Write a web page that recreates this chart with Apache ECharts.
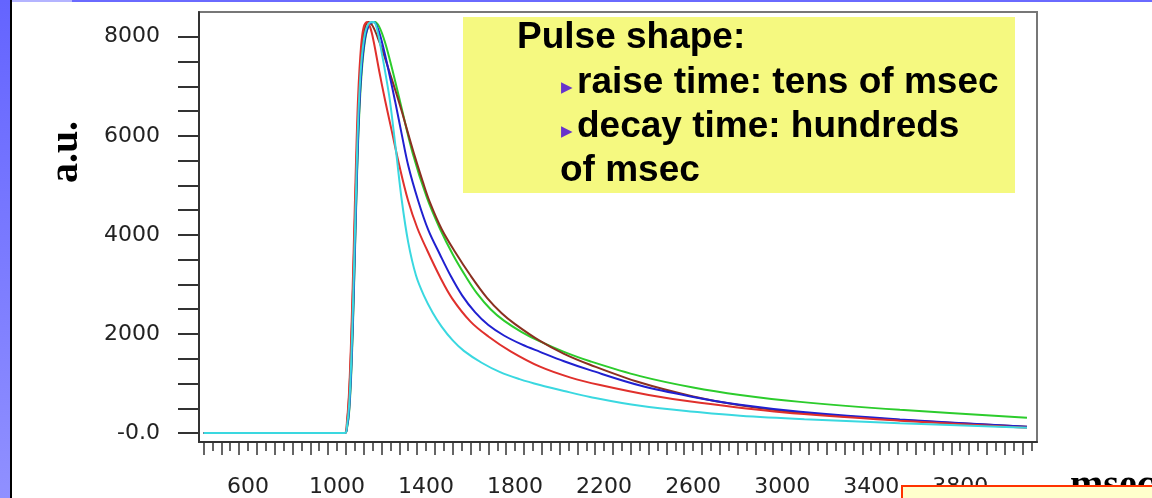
<!DOCTYPE html>
<html>
<head>
<meta charset="utf-8">
<script src="https://cdn.jsdelivr.net/npm/echarts@6/dist/echarts.min.js"></script>
<style>
html, body { margin: 0; padding: 0; background: #fff; }
#chart { width: 1152px; height: 498px; }
</style>
</head>
<body>
<div id="chart"></div>
<script>
// pulse curves, [msec, a.u.]
const red = [[400,0],[1035,0],[1045,250],[1055,900],[1065,2100],[1075,3700],[1085,5400],[1095,6800],[1108,7800],[1120,8200],[1135,8300],[1150,8180],[1165,7900],[1190,7300],[1216,6720],[1245,6120],[1280,5400],[1319,4700],[1360,4150],[1404,3700],[1463,3150],[1517,2720],[1600,2250],[1680,1950],[1780,1650],[1912,1340],[2050,1120],[2182,970],[2400,770],[2631,610],[3000,420],[3529,250],[4100,110]];
const green = [[400,0],[1035,0],[1045,100],[1055,450],[1065,1300],[1075,2700],[1085,4400],[1095,5900],[1108,7100],[1125,7900],[1145,8250],[1170,8300],[1190,8200],[1215,7900],[1245,7400],[1283,6700],[1340,5650],[1404,4750],[1460,4150],[1521,3600],[1580,3150],[1629,2820],[1690,2500],[1750,2270],[1830,2040],[1912,1850],[2020,1640],[2137,1450],[2362,1150],[2600,920],[2811,770],[3081,630],[3529,470],[4100,310]];
const blue = [[400,0],[1035,0],[1045,120],[1055,500],[1065,1400],[1075,2800],[1085,4500],[1095,6000],[1108,7200],[1125,7950],[1145,8250],[1165,8300],[1185,8150],[1210,7750],[1235,7250],[1261,6700],[1290,6050],[1320,5400],[1364,4700],[1410,4100],[1463,3600],[1510,3180],[1562,2780],[1620,2440],[1680,2180],[1750,1970],[1830,1790],[1912,1640],[2020,1450],[2137,1270],[2362,960],[2600,730],[2811,570],[3081,430],[3529,275],[4100,130]];
const cyan = [[400,0],[1035,0],[1045,150],[1055,600],[1065,1600],[1075,3100],[1085,4800],[1095,6300],[1108,7400],[1125,8050],[1145,8280],[1165,8300],[1180,8150],[1200,7700],[1220,7200],[1238,6700],[1265,5700],[1291,4700],[1320,3850],[1355,3180],[1390,2780],[1430,2430],[1470,2150],[1520,1870],[1570,1660],[1650,1420],[1733,1230],[1820,1090],[1912,970],[2020,850],[2137,730],[2362,550],[2631,420],[2811,350],[3100,280],[3529,200],[4100,110]];
const brown = [[400,0],[1035,0],[1045,200],[1055,800],[1065,1900],[1075,3400],[1085,5000],[1095,6400],[1108,7500],[1122,8100],[1140,8300],[1160,8220],[1190,7900],[1215,7580],[1240,7230],[1265,6880],[1292,6480],[1320,6040],[1350,5580],[1385,5080],[1418,4650],[1470,4120],[1530,3660],[1600,3180],[1674,2730],[1740,2420],[1800,2200],[1912,1860],[2020,1600],[2137,1380],[2362,1020],[2600,740],[2811,560],[3081,410],[3529,265],[4100,130]];

const yTicks = [0,500,1000,1500,2000,2500,3000,3500,4000,4500,5000,5500,6000,6500,7000,7500,8000];
const yLabels = [0,2000,4000,6000,8000];
const xLabels = [600,1000,1400,1800,2200,2600,3000,3400,3800];
let xTicks = [];
for (let v = 400; v <= 4120; v += 40) xTicks.push(v);
let xTicksLong = [];
for (let v = 400; v <= 4120; v += 80) xTicksLong.push(v);

let chart = echarts.init(document.getElementById('chart'));

const boxFont = 'bold 37px "Liberation Sans", Arial, sans-serif';
const shadow = {textShadowColor: '#fff', textShadowOffsetX: 2, textShadowOffsetY: 2, textShadowBlur: 0};
const bullet = {text: '▶', font: '15px "DejaVu Sans"', fill: '#6633cc', verticalAlign: 'middle'};

function line(name, data, color) {
    return {
        name: name,
        type: 'line',
        data: data,
        showSymbol: false,
        smooth: 0.35,
        lineStyle: {color: color, width: 2},
        itemStyle: {color: color}
    };
}

chart.setOption({
    animation: false,
    backgroundColor: '#fff',
    grid: {
        left: 199, right: 115, top: 12, bottom: 56,
        show: true, borderColor: '#777', borderWidth: 2
    },
    xAxis: [{
        type: 'value',
        min: 380, max: 4145,
        axisLine: {onZero: false, lineStyle: {color: '#333', width: 2}},
        axisTick: {customValues: xTicks, length: 9, lineStyle: {color: '#333', width: 1.5}},
        axisLabel: {
            customValues: xLabels, margin: 34,
            color: '#222', fontSize: 22, fontFamily: 'DejaVu Sans',
            formatter: function (v) { return String(v); }
        },
        splitLine: {show: false}
    }, {
        type: 'value',
        position: 'bottom',
        min: 380, max: 4145,
        axisLine: {show: false, onZero: false},
        axisTick: {customValues: xTicksLong, length: 13, lineStyle: {color: '#333', width: 1.5}},
        axisLabel: {show: false},
        splitLine: {show: false}
    }],
    yAxis: {
        type: 'value',
        min: -180, max: 8500,
        axisLine: {show: true, onZero: false, lineStyle: {color: '#333', width: 2}},
        axisTick: {show: true, customValues: yTicks, length: 21, lineStyle: {color: '#333', width: 2}},
        axisLabel: {
            customValues: yLabels, margin: 39,
            color: '#222', fontSize: 22, fontFamily: 'DejaVu Sans',
            padding: [0, 0, 12, 0],
            formatter: function (v) { return v === 0 ? '-0.0' : String(v); }
        },
        splitLine: {show: false}
    },
    series: [
        line('green', green, '#2ccc2c'),
        line('brown', brown, '#8a3020'),
        line('blue', blue, '#2020d0'),
        line('red', red, '#e0302c'),
        line('cyan', cyan, '#3ad8e0')
    ],
    graphic: [
        {type: 'rect', x: 0, y: 0, shape: {width: 10, height: 498},
         style: {fill: new echarts.graphic.LinearGradient(0, 0, 0, 1, [{offset: 0, color: '#6464ff'}, {offset: 1, color: '#9090ff'}])}},
        {type: 'rect', x: 10, y: 0, shape: {width: 2, height: 498}, style: {fill: '#000'}},
        {type: 'rect', x: 12, y: 0, shape: {width: 60, height: 2}, style: {fill: '#b4b4ff'}},
        {type: 'rect', x: 72, y: 0, shape: {width: 1080, height: 2}, style: {fill: '#6a6aff'}},
        {type: 'rect', x: 463, y: 17, shape: {width: 552, height: 176}, style: {fill: '#f5f980'}},
        {type: 'text', x: 517, y: 37.5, style: Object.assign({text: 'Pulse shape:', font: boxFont, fill: '#000', verticalAlign: 'middle'}, shadow)},
        {type: 'text', x: 561, y: 88, style: bullet},
        {type: 'text', x: 577, y: 82.5, style: Object.assign({text: 'raise time: tens of msec', font: boxFont, fill: '#000', verticalAlign: 'middle'}, shadow)},
        {type: 'text', x: 561, y: 132, style: bullet},
        {type: 'text', x: 577, y: 126.5, style: Object.assign({text: 'decay time: hundreds', font: boxFont, fill: '#000', verticalAlign: 'middle'}, shadow)},
        {type: 'text', x: 560, y: 170.5, style: Object.assign({text: 'of msec', font: boxFont, fill: '#000', verticalAlign: 'middle'}, shadow)},
        {type: 'text', x: 67, y: 152, rotation: Math.PI / 2,
         style: {text: 'a.u.', font: 'bold 40px "Liberation Serif", "Times New Roman", serif', fill: '#000', align: 'center', verticalAlign: 'middle'}},
        {type: 'text', x: 1070, y: 487,
         style: {text: 'msec', font: 'bold 40px "Liberation Serif", "Times New Roman", serif', fill: '#000', verticalAlign: 'middle'}},
        {type: 'rect', x: 902, y: 486, z: 100, shape: {width: 260, height: 20},
         style: {fill: '#ffffcc', stroke: '#ff3300', lineWidth: 2}}
    ]
});
</script>
</body>
</html>
